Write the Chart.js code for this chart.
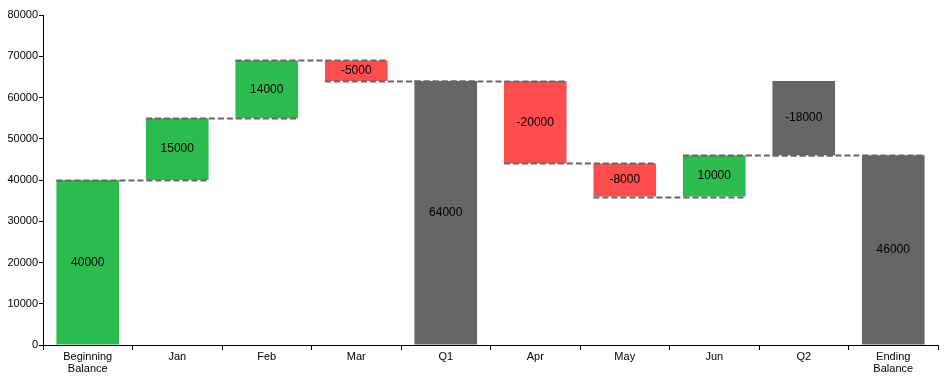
<!DOCTYPE html>
<html>
<head>
<meta charset="utf-8">
<script src="https://cdn.jsdelivr.net/npm/chart.js@4"></script>
<style>
  html, body { margin: 0; padding: 0; background: #fff; }
  #chart { display: block; }
</style>
</head>
<body>
<canvas id="chart" width="951" height="377"></canvas>
<script>
var categories = [["Beginning", "Balance"], "Jan", "Feb", "Mar", "Q1", "Apr", "May", "Jun", "Q2", ["Ending", "Balance"]];
var values = [40000, 15000, 14000, -5000, 64000, -20000, -8000, 10000, -18000, 46000];
var starts = [0, 40000, 55000, 69000, 0, 64000, 44000, 36000, 64000, 0];
var kinds = ["up", "up", "up", "down", "total", "down", "down", "up", "total", "total"];
var yTicks = [0, 10000, 20000, 30000, 40000, 50000, 60000, 70000, 80000];

var kindColors = { up: "#2bbb4e", down: "#fd4d4f", total: "#666666" };

var ranges = values.map(function (v, i) { return [starts[i], starts[i] + v]; });

// dashed connectors from each bar's end level to the next bar
var connectorPlugin = {
    id: "connectors",
    afterDatasetsDraw: function (chart) {
        var ctx = chart.ctx;
        var y = chart.scales.y;
        var bars = chart.getDatasetMeta(0).data;
        ctx.save();
        ctx.strokeStyle = "#666666";
        ctx.lineWidth = 2;
        ctx.setLineDash([6, 3]);
        for (var i = 0; i < bars.length - 1; i++) {
            var a = bars[i], b = bars[i + 1];
            var py = Math.round(y.getPixelForValue(ranges[i][1])) + 0.5;
            ctx.beginPath();
            ctx.moveTo(a.x - a.width / 2, py);
            ctx.lineTo(b.x + b.width / 2, py);
            ctx.stroke();
        }
        ctx.restore();
    }
};

var labelPlugin = {
    id: "barLabels",
    afterDatasetsDraw: function (chart) {
        var ctx = chart.ctx;
        var bars = chart.getDatasetMeta(0).data;
        ctx.save();
        ctx.font = "12px 'Liberation Sans', Arial, sans-serif";
        ctx.fillStyle = "#000";
        ctx.textAlign = "center";
        ctx.textBaseline = "middle";
        bars.forEach(function (bar, i) {
            ctx.fillText(String(values[i]), bar.x, (bar.y + bar.base) / 2);
        });
        ctx.restore();
    }
};

new Chart(document.getElementById("chart").getContext("2d"), {
    type: "bar",
    data: {
        labels: categories,
        datasets: [{
            data: ranges,
            backgroundColor: kinds.map(function (k) { return kindColors[k]; }),
            borderWidth: 0,
            categoryPercentage: 1,
            barPercentage: 0.7
        }]
    },
    plugins: [connectorPlugin, labelPlugin],
    options: {
        responsive: false,
        animation: false,
        layout: { padding: { top: 15, right: 13, left: 0, bottom: 0 } },
        plugins: {
            legend: { display: false },
            tooltip: { enabled: false }
        },
        scales: {
            x: {
                grid: { display: true, drawOnChartArea: false, drawTicks: true, tickLength: 5, color: "#000" },
                border: { display: true, color: "#000", width: 1 },
                ticks: {
                    color: "#000",
                    padding: 1,
                    maxRotation: 0,
                    autoSkip: false,
                    font: { family: "'Liberation Sans', Arial, sans-serif", size: 11, lineHeight: 1.1 }
                },
                afterFit: function (scale) { scale.height = 32; }
            },
            y: {
                min: 0,
                max: 80000,
                afterBuildTicks: function (scale) {
                    scale.ticks = yTicks.map(function (v) { return { value: v }; });
                },
                grid: { display: true, drawOnChartArea: false, drawTicks: true, tickLength: 4, color: "#000" },
                border: { display: true, color: "#000", width: 1 },
                ticks: {
                    color: "#000",
                    padding: 1,
                    font: { family: "'Liberation Sans', Arial, sans-serif", size: 11 },
                    callback: function (v) { return String(v); }
                },
                afterFit: function (scale) { scale.width = 43; }
            }
        }
    }
});
</script>
</body>
</html>
